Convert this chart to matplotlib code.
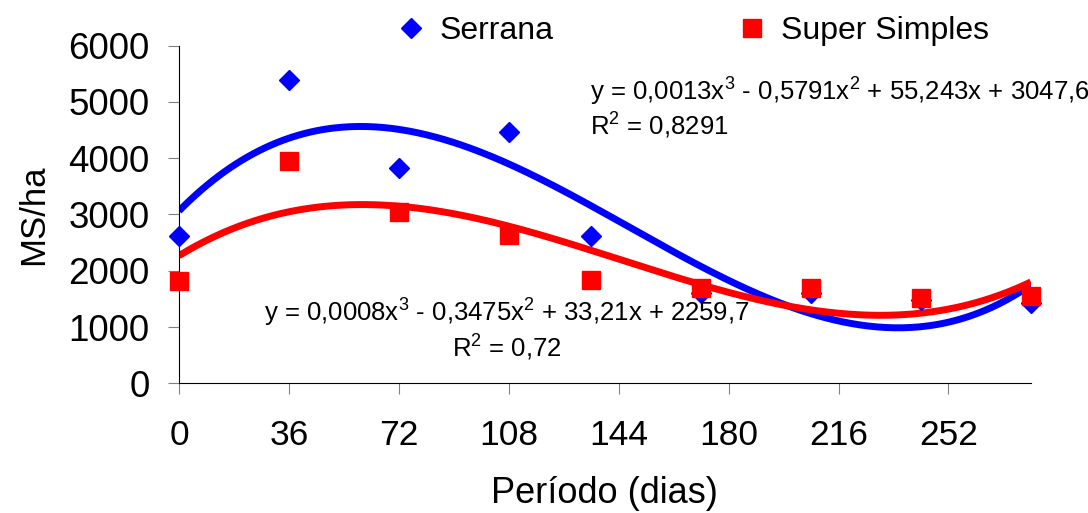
import numpy as np
import matplotlib
matplotlib.use("Agg")
import matplotlib.pyplot as plt

plt.rcParams['font.family'] = ['Liberation Sans', 'DejaVu Sans']
plt.rcParams['mathtext.fontset'] = 'custom'
plt.rcParams['mathtext.rm'] = 'Liberation Sans'
plt.rcParams['mathtext.it'] = 'Liberation Sans'
plt.rcParams['mathtext.default'] = 'regular'

# dias de coleta
dias = [0, 36, 72, 108, 135, 171, 207, 243, 279]
serrana = [2620, 5390, 3820, 4470, 2615, 1610, 1610, 1475, 1430]
super_simples = [1815, 3950, 3050, 2635, 1830, 1685, 1685, 1510, 1555]

x_ticks = [0, 36, 72, 108, 144, 180, 216, 252]
y_ticks = [0, 1000, 2000, 3000, 4000, 5000, 6000]

eq_serrana = "y = 0,0013x$^{3}$ - 0,5791x$^{2}$ + 55,243x + 3047,6"
r2_serrana = "R$^{2}$ = 0,8291"
eq_super = "y = 0,0008x$^{3}$ - 0,3475x$^{2}$ + 33,21x + 2259,7"
r2_super = "R$^{2}$ = 0,72"

fig = plt.figure(figsize=(10.88, 5.13), dpi=100)
ax = fig.add_axes([0.1645, 0.2528, 0.783, 0.6585])

# linhas de tendencia (polinomio de grau 3)
xs = np.linspace(0, 279, 300)
p1 = np.polyfit(dias, serrana, 3)
p2 = np.polyfit(dias, super_simples, 3)
ax.plot(xs, np.polyval(p1, xs), color='#0000FF', lw=5, zorder=2, solid_capstyle='butt')
ax.plot(xs, np.polyval(p2, xs), color='#FF0000', lw=5, zorder=2, solid_capstyle='butt')

ax.plot(dias, serrana, linestyle='none', marker='D', ms=10.5, color='#0000FF',
        label='Serrana', zorder=3, clip_on=False)
ax.plot(dias, super_simples, linestyle='none', marker='s', ms=13, color='#FF0000',
        label='Super Simples', zorder=4, clip_on=False)

ax.set_xlim(0, 279)
ax.set_ylim(0, 6000)
ax.set_xticks(x_ticks)
ax.set_yticks(y_ticks)
ax.spines['top'].set_visible(False)
ax.spines['right'].set_visible(False)
ax.tick_params(axis='y', direction='out', length=8, color='#808080', labelsize=26.5, pad=13)
ax.tick_params(axis='x', direction='out', length=8, color='#808080', labelsize=25.5, pad=18)

ax.set_xlabel('Período (dias)', fontsize=26, labelpad=17)
ax.set_ylabel('MS/ha', fontsize=25, labelpad=13)

fig.text(590 / 1088, 1 - 92 / 513, eq_serrana, fontsize=18.5, va='center', ha='left')
fig.text(590 / 1088, 1 - 126 / 513, r2_serrana, fontsize=18.5, va='center', ha='left')
fig.text(507 / 1088, 1 - 313 / 513, eq_super, fontsize=18.5, va='center', ha='center')
fig.text(507 / 1088, 1 - 348 / 513, r2_super, fontsize=18.5, va='center', ha='center')

fig.legend(loc='center', bbox_to_anchor=(0.636, 0.939), ncol=2, frameon=False,
           fontsize=23, handlelength=1.0, handletextpad=0.4, columnspacing=5.7,
           borderaxespad=0)

fig.savefig('out.png', dpi=100)
